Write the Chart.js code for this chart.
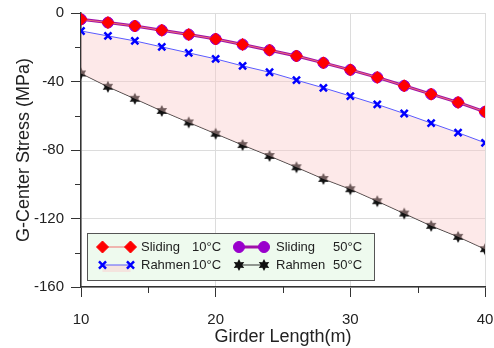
<!DOCTYPE html>
<html><head><meta charset="utf-8">
<script src="https://cdn.jsdelivr.net/npm/chart.js@4/dist/chart.umd.min.js"></script>
<style>html,body{margin:0;padding:0;background:#fff}#w{width:494px;height:348px}</style>
</head><body><div id="w"><canvas id="c" width="494" height="348"></canvas></div>
<script>
const girderLength = [10,12,14,16,18,20,22,24,26,28,30,32,34,36,38,40];
const sliding10 = [-3.7,-5.6,-7.6,-10.1,-12.6,-15.2,-18.4,-21.7,-25.1,-29.1,-33.2,-37.6,-42.5,-47.4,-52.2,-57.7];
const sliding50 = [-3.7,-5.6,-7.6,-10.1,-12.6,-15.2,-18.4,-21.7,-25.1,-29.1,-33.2,-37.6,-42.5,-47.4,-52.2,-57.7];
const rahmen10 = [-10.5,-13.4,-16.3,-19.8,-23.3,-26.8,-30.9,-34.6,-39.2,-43.7,-48.5,-53.4,-58.7,-64.3,-69.9,-75.8];
const rahmen50 = [-35.3,-43.1,-50.1,-57.2,-63.9,-70.5,-77.1,-83.5,-90.1,-96.9,-102.9,-109.9,-117.1,-124.3,-130.7,-137.9];
const seriesNames = ['Sliding','Sliding','Rahmen','Rahmen'];
const seriesTemps = ['10°C','50°C','10°C','50°C'];
const yTicks = [0,-40,-80,-120,-160];
const xTicks = [10,20,30,40];

function starImg(r,color){
  const cv=document.createElement('canvas');cv.width=cv.height=2*r+2;
  const g=cv.getContext('2d');g.fillStyle=color;g.beginPath();
  const c=r+1;
  for(let i=0;i<12;i++){const a=Math.PI/2+i*Math.PI/6;const rr=i%2?r*0.55:r;
    const px=c+rr*Math.cos(a),py=c-rr*Math.sin(a);i?g.lineTo(px,py):g.moveTo(px,py);}
  g.closePath();g.fill();return cv;
}
const star = starImg(6,'#111');
const pts = a => a.map((v,i)=>({x:girderLength[i],y:v}));

const legendPlugin = {
  id:'legbox',
  afterDatasetsDraw(chart){
    const ctx=chart.ctx; const xs=chart.scales.x, ys=chart.scales.y;
    ctx.save();
    ctx.strokeStyle='#333';ctx.lineWidth=1;
    [15,25,35].forEach(v=>{const p=Math.round(xs.getPixelForValue(v))+0.5;ctx.beginPath();ctx.moveTo(p,ys.bottom);ctx.lineTo(p,ys.bottom+6);ctx.stroke();});
    [-20,-60,-100,-140].forEach(v=>{const p=Math.round(ys.getPixelForValue(v))+0.5;ctx.beginPath();ctx.moveTo(xs.left,p);ctx.lineTo(xs.left-6,p);ctx.stroke();});
    const bx=87,by=233,bw=287,bh=47;
    ctx.fillStyle='#eefaee';ctx.fillRect(bx,by,bw,bh);
    ctx.strokeStyle='#555';ctx.lineWidth=1;ctx.strokeRect(bx+0.5,by+0.5,bw,bh);
    const ds=chart.data.datasets;
    const cols=[{x0:102.5,x1:130.5,tx:141,t2:192},{x0:239,x1:264,tx:276,t2:333}];
    const order=[[0,0,0],[1,1,0],[2,0,1],[3,1,1]];
    ctx.font='13px "Liberation Sans", Arial, sans-serif';ctx.textBaseline='middle';
    order.forEach(([di,col,row])=>{
      const d=ds[di],c=cols[col],y=[247,265][row];
      if(di===2){ctx.fillStyle='rgba(250,205,205,0.5)';ctx.fillRect(c.x0,y,c.x1-c.x0,7);}
      ctx.strokeStyle=d.borderColor;ctx.lineWidth=d.borderWidth;
      ctx.beginPath();ctx.moveTo(c.x0,y);ctx.lineTo(c.x1,y);ctx.stroke();
      [c.x0,c.x1].forEach(px=>{
        if(d.pointStyle instanceof HTMLCanvasElement){ctx.drawImage(d.pointStyle,px-d.pointStyle.width/2,y-d.pointStyle.height/2);}
        else{ctx.strokeStyle=d.pointBorderColor;ctx.fillStyle=d.pointBackgroundColor;ctx.lineWidth=d.pointBorderWidth;
          Chart.helpers.drawPoint(ctx,{pointStyle:d.pointStyle,radius:d.pointRadius,borderWidth:d.pointBorderWidth},px,y);}
      });
      ctx.fillStyle='#222';
      ctx.fillText(seriesNames[di],c.tx,y+0.5);
      ctx.fillText(seriesTemps[di],c.t2,y+0.5);
    });
    ctx.restore();
  }
};

new Chart(document.getElementById('c'),{
  type:'line',
  data:{datasets:[
    {label:seriesNames[0]+' '+seriesTemps[0],data:pts(sliding10),borderColor:'#f07070',borderWidth:1,pointStyle:'rectRot',pointRadius:6,pointBorderWidth:1,pointBackgroundColor:'#ff0000',pointBorderColor:'#ff0000',order:1},
    {label:seriesNames[1]+' '+seriesTemps[1],data:pts(sliding50),borderColor:'#a010a8',borderWidth:3,pointStyle:'circle',pointRadius:5.5,pointBorderWidth:1,pointBackgroundColor:'#9900cc',pointBorderColor:'#9900cc',order:2},
    {label:seriesNames[2]+' '+seriesTemps[2],data:pts(rahmen10),borderColor:'#5a5aff',borderWidth:1,pointStyle:'crossRot',pointRadius:5,pointBorderWidth:2.5,pointBackgroundColor:'#0000ff',pointBorderColor:'#0000ff',fill:'+1',backgroundColor:'rgba(250,200,200,0.4)',order:3},
    {label:seriesNames[3]+' '+seriesTemps[3],data:pts(rahmen50),borderColor:'#333',borderWidth:1,pointStyle:star,pointRadius:6,pointBorderWidth:1,pointBackgroundColor:'#111',pointBorderColor:'#111',order:4}
  ]},
  options:{
    animation:false,responsive:false,
    layout:{padding:{top:13,right:9,left:13,bottom:0}},
    plugins:{legend:{display:false},tooltip:{enabled:false},filler:{propagate:false}},
    elements:{line:{tension:0}},
    scales:{
      x:{type:'linear',min:10,max:40,
        afterBuildTicks:s=>{s.ticks=xTicks.map(v=>({value:v}));},
        afterFit:s=>{s.height=61;s.paddingLeft=0;s.paddingRight=0;},
        grid:{color:'#dcdcdc',tickColor:'#333',tickLength:10,lineWidth:1},
        border:{color:'#333',width:1.5},
        ticks:{font:{size:15,family:'"Liberation Sans", Arial'},color:'#222',padding:14,maxRotation:0},
        title:{display:true,text:'Girder Length(m)',font:{size:18,family:'"Liberation Sans", Arial'},color:'#222',padding:{top:0,bottom:0}}
      },
      y:{min:-160,max:0,
        afterBuildTicks:s=>{s.ticks=yTicks.map(v=>({value:v}));},
        afterFit:s=>{s.width=68;s.paddingTop=0;s.paddingBottom=0;},
        grid:{color:'#dcdcdc',tickColor:'#333',tickLength:10,lineWidth:1},
        border:{color:'#333',width:1.5},
        ticks:{font:{size:15,family:'"Liberation Sans", Arial'},color:'#222',padding:7},
        title:{display:true,text:'G-Center Stress (MPa)',font:{size:18,family:'"Liberation Sans", Arial'},color:'#222',padding:{top:0,bottom:4}}
      }
    }
  },
  plugins:[legendPlugin]
});
</script></body></html>
